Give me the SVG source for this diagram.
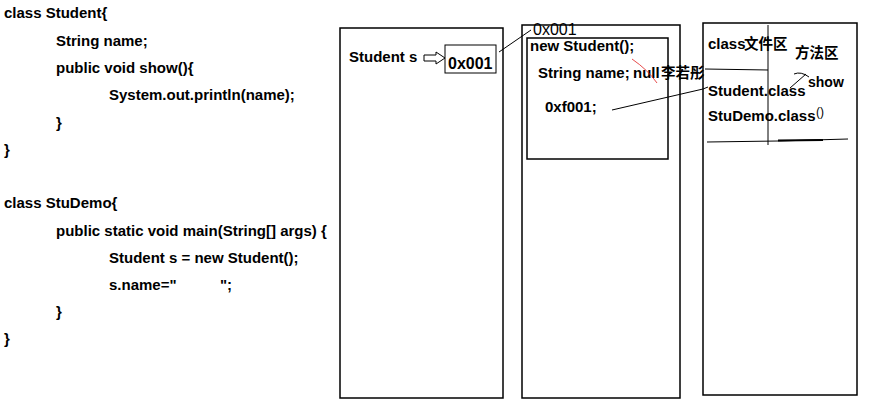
<svg xmlns="http://www.w3.org/2000/svg" width="872" height="412" viewBox="0 0 872 412">
<style>
.b{font-family:"Liberation Sans",Arial,sans-serif;font-weight:bold;font-size:15px;fill:#000}
.r{font-family:"Liberation Sans",Arial,sans-serif;font-size:16px;fill:#000}
.cjk{font-family:"Noto Sans CJK SC","Liberation Sans",sans-serif;font-size:14.5px;font-weight:bold;fill:#000}
.box{fill:none;stroke:#000;stroke-width:1.5}
.ln{fill:none;stroke:#000;stroke-width:1}
</style>
<rect width="872" height="412" fill="#fff"/>
<g id="code">
<text class="b" x="4" y="18">class Student{</text>
<text class="b" x="56" y="46">String name;</text>
<text class="b" x="56" y="73">public void show(){</text>
<text class="b" x="109" y="100">System.out.println(name);</text>
<text class="b" x="56" y="128">}</text>
<text class="b" x="4" y="155">}</text>
<text class="b" x="4" y="208">class StuDemo{</text>
<text class="b" x="56" y="236">public static void main(String[] args) {</text>
<text class="b" x="109" y="263">Student s = new Student();</text>
<text class="b" x="109" y="290">s.name="</text>
<text class="b" x="220" y="290">";</text>
<text class="b" x="56" y="317">}</text>
<text class="b" x="4" y="344">}</text>
</g>
<g id="stack">
<rect class="box" x="340" y="28" width="163" height="370"/>
<text class="b" x="349" y="62">Student s</text>
<path d="M424,55 H436 V52 L445,58 L436,64 V61 H424 Z" fill="#fff" stroke="#000" stroke-width="1"/>
<rect x="445" y="45" width="51" height="28" fill="#fff" stroke="#000" stroke-width="1"/>
<text class="b" x="448" y="69" style="font-size:16px">0x001</text>
</g>
<g id="heap">
<rect class="box" x="522" y="25" width="158" height="373"/>
<text class="r" x="533" y="35">0x001</text>
<rect class="box" x="527" y="38" width="141" height="121"/>
<text class="b" x="530" y="51">new Student();</text>
<text class="b" x="538" y="78">String name;</text>
<text class="b" x="633" y="78">null</text>
<text class="cjk" x="661" y="78">李若彤</text>
<text class="b" x="545" y="112">0xf001;</text>
<path d="M632,59 Q648,70 657,83" fill="none" stroke="#e02020" stroke-width="0.8"/>
</g>
<g id="method-area">
<rect class="box" x="703" y="23" width="154" height="372"/>
<line class="ln" x1="768" y1="25" x2="768" y2="145"/>
<text class="b" x="708" y="49">class</text>
<text class="cjk" x="744" y="49">文件区</text>
<text class="cjk" x="795" y="58">方法区</text>
<text class="b" x="808" y="87" style="font-size:14px">show</text>
<text class="b" x="708" y="96">Student.class</text>
<text class="b" x="708" y="121">StuDemo.class</text>
<text x="816" y="116" style="font-family:'Liberation Sans',sans-serif;font-size:12px">()</text>
<path class="ln" d="M707,142 L778,141 L848,139"/>
<line x1="778" y1="140.5" x2="823" y2="140" stroke="#000" stroke-width="2"/>
</g>
<g id="connectors">
<line class="ln" x1="499" y1="52" x2="531" y2="30"/>
<line class="ln" x1="705" y1="69" x2="768" y2="70"/>
<polyline class="ln" points="612,110 703,89 708,87"/>
<path class="ln" d="M790,88 L806,74 M794,74 Q801,71 809,77"/>
</g>
</svg>
